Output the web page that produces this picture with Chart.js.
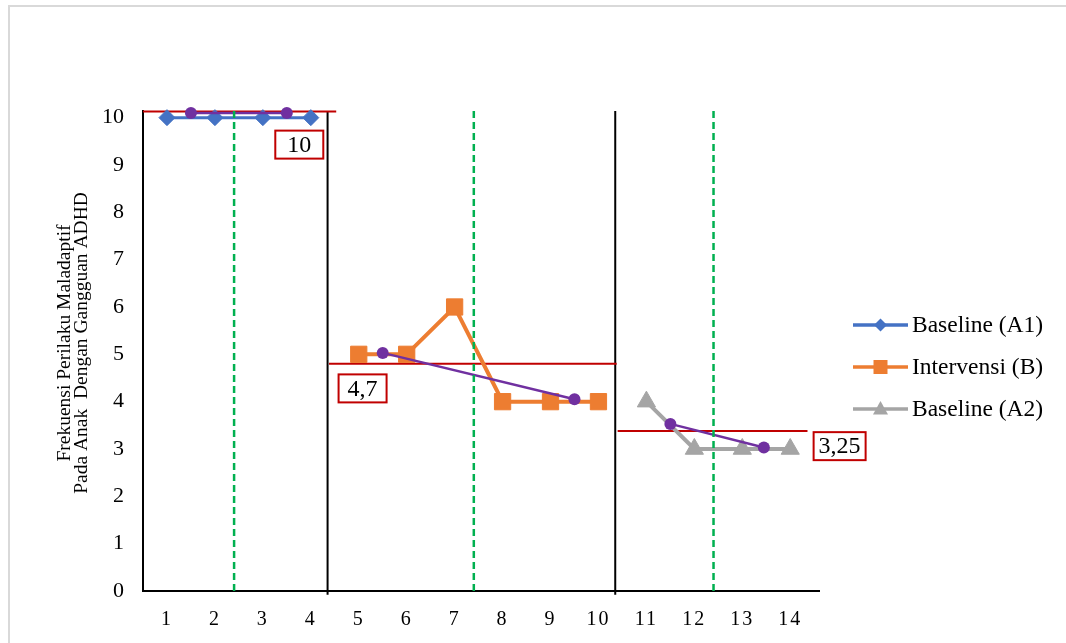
<!DOCTYPE html>
<html>
<head>
<meta charset="utf-8">
<title>Frekuensi Perilaku Maladaptif</title>
<script src="https://cdn.jsdelivr.net/npm/chart.js@4.4.1/dist/chart.umd.min.js"></script>
<style>
  html, body { margin: 0; padding: 0; background: #fff; }
  #wrap { position: relative; width: 1066px; height: 643px; }
</style>
</head>
<body>
<div id="wrap"><canvas id="chart" width="1066" height="643"></canvas></div>
<script>
// Sessions on the x axis and the y tick values
const sessions = [1, 2, 3, 4, 5, 6, 7, 8, 9, 10, 11, 12, 13, 14];
const yTicks = [0, 1, 2, 3, 4, 5, 6, 7, 8, 9, 10];

// Observed frequency per phase
const sessionsA1 = [1, 2, 3, 4];
const valuesA1 = [10, 10, 10, 10];
const sessionsB = [5, 6, 7, 8, 9, 10];
const valuesB = [5, 5, 6, 4, 4, 4];
const sessionsA2 = [11, 12, 13, 14];
const valuesA2 = [4, 3, 3, 3];
const seriesNames = ['Baseline (A1)', 'Intervensi (B)', 'Baseline (A2)'];

// Split-middle trend, two points per phase
const trendX = [[1.5, 3.5], [5.5, 9.5], [11.5, 13.45]];
const trendY = [[10.1, 10.1], [5.03, 4.05], [3.53, 3.03]];

// Mean level lines and their labels
const meanValues = [10.13, 4.8, 3.38];
const meanStart = [0.5, 4.38, 10.4];
const meanEnd = [4.53, 10.38, 14.36];
const meanLabels = ['10', '4,7', '3,25'];

// Phase boundaries (solid) and phase middles (dashed)
const phaseLines = [4.35, 10.35];
const midLines = [2.4, 7.4, 12.4];

const yTitle = ['Frekuensi Perilaku Maladaptif', 'Pada Anak  Dengan Gangguan ADHD'];

const FONT = '"Liberation Serif", "Times New Roman", serif';
const seriesColors = ['#4472C4', '#ED7D31', '#A5A5A5'];
const seriesPoints = ['rectRot', 'rect', 'triangle'];

const pts = (xs, ys) => xs.map((x, i) => ({ x: x, y: ys[i] }));

const datasets = [];

// main series
[[sessionsA1, valuesA1, 8], [sessionsB, valuesB, 11.5], [sessionsA2, valuesA2, 10.5]].forEach((s, i) => {
    datasets.push({
        label: seriesNames[i],
        data: pts(s[0], s[1]),
        borderColor: seriesColors[i],
        backgroundColor: seriesColors[i],
        borderWidth: i === 0 ? 3 : 4,
        pointStyle: seriesPoints[i],
        pointRadius: s[2],
        pointBorderWidth: 1,
        order: 2,
    });
});

// trend lines
trendX.forEach((xs, i) => {
    datasets.push({
        label: 'trend',
        data: pts(xs, trendY[i]),
        borderColor: '#7030A0',
        backgroundColor: '#7030A0',
        borderWidth: 2.5,
        pointStyle: 'circle',
        pointRadius: 6,
        pointBorderWidth: 0,
        order: 1,
    });
});

// mean level lines
meanValues.forEach((v, i) => {
    datasets.push({
        label: 'mean',
        data: pts([meanStart[i], meanEnd[i]], [v, v]),
        borderColor: '#C00000',
        borderWidth: 2,
        pointRadius: 0,
        order: 3,
    });
});

// phase boundaries
phaseLines.forEach(x => {
    datasets.push({
        label: 'phase',
        data: pts([x, x], [-0.08, 10.14]),
        borderColor: '#000000',
        borderWidth: 2,
        pointRadius: 0,
        order: 4,
    });
});

midLines.forEach(x => {
    datasets.push({
        label: 'middle',
        data: pts([x, x], [0, 10.22]),
        borderColor: '#00B050',
        borderWidth: 2.5,
        borderDash: [7, 4],
        pointRadius: 0,
        order: 0,
    });
});

// placement of the mean label boxes (data units)
const labelAnchorX = [3.76, 5.08, 15.03];
const labelAnchorY = [9.43, 4.28, 3.06];

const framePlugin = {
    id: 'frame',
    beforeDraw(chart) {
        const ctx = chart.ctx;
        ctx.save();
        ctx.fillStyle = '#fff';
        ctx.fillRect(0, 0, chart.width, chart.height);
        ctx.strokeStyle = '#D9D9D9';
        ctx.lineWidth = 2;
        ctx.beginPath();
        ctx.moveTo(9, chart.height);
        ctx.lineTo(9, 6);
        ctx.lineTo(chart.width, 6);
        ctx.stroke();
        ctx.restore();

        // x tick labels are spaced out a little in the original
        const xs = chart.scales.x;
        if (!xs._spaced) {
            const orig = xs.drawLabels;
            xs.drawLabels = function (area) {
                this.ctx.letterSpacing = '2px';
                orig.call(this, area);
                this.ctx.letterSpacing = '0px';
            };
            xs._spaced = true;
        }
    }
};

const extrasPlugin = {
    id: 'extras',
    afterDraw(chart) {
        const ctx = chart.ctx;
        const xs = chart.scales.x, ys = chart.scales.y;

        // mean labels in red boxes
        meanLabels.forEach((t, i) => {
            const cx = xs.getPixelForValue(labelAnchorX[i]);
            const cy = ys.getPixelForValue(labelAnchorY[i]);
            ctx.save();
            ctx.font = '24px ' + FONT;
            const w = Math.max(48, ctx.measureText(t).width + 10);
            const h = 28;
            ctx.fillStyle = '#fff';
            ctx.fillRect(cx - w / 2, cy - h / 2, w, h);
            ctx.strokeStyle = '#C00000';
            ctx.lineWidth = 2;
            ctx.strokeRect(cx - w / 2, cy - h / 2, w, h);
            ctx.fillStyle = '#000';
            ctx.textAlign = 'center';
            ctx.textBaseline = 'middle';
            ctx.fillText(t, cx, cy + 1);
            ctx.restore();
        });

        // y axis title, two rotated lines
        ctx.save();
        ctx.translate(65, 343);
        ctx.rotate(-Math.PI / 2);
        ctx.font = '19.5px ' + FONT;
        ctx.fillStyle = '#000';
        ctx.textAlign = 'center';
        ctx.textBaseline = 'middle';
        ctx.fillText(yTitle[0], 0, 0);
        ctx.fillText(yTitle[1], 0, 17);
        ctx.restore();

        // legend: line with marker, then name
        seriesNames.forEach((name, i) => {
            const y = 325 + i * 42;
            const x0 = 853, x1 = 908, mx = (x0 + x1) / 2;
            ctx.save();
            ctx.strokeStyle = seriesColors[i];
            ctx.fillStyle = seriesColors[i];
            ctx.lineWidth = 3.5;
            ctx.beginPath();
            ctx.moveTo(x0, y);
            ctx.lineTo(x1, y);
            ctx.stroke();
            ctx.beginPath();
            if (seriesPoints[i] === 'rectRot') {
                ctx.moveTo(mx, y - 6.5); ctx.lineTo(mx + 6.5, y); ctx.lineTo(mx, y + 6.5); ctx.lineTo(mx - 6.5, y);
            } else if (seriesPoints[i] === 'rect') {
                ctx.rect(mx - 7, y - 7, 14, 14);
            } else {
                ctx.moveTo(mx, y - 8); ctx.lineTo(mx + 7.5, y + 5.5); ctx.lineTo(mx - 7.5, y + 5.5);
            }
            ctx.closePath();
            ctx.fill();
            ctx.font = '23.5px ' + FONT;
            ctx.fillStyle = '#000';
            ctx.textAlign = 'left';
            ctx.textBaseline = 'middle';
            ctx.fillText(name, 912, y + 1);
            ctx.restore();
        });
    }
};

new Chart(document.getElementById('chart').getContext('2d'), {
    type: 'line',
    data: { datasets: datasets },
    options: {
        responsive: false,
        animation: false,
        events: [],
        clip: false,
        layout: { padding: { left: 0, top: 111, right: 247, bottom: 0 } },
        datasets: { line: { clip: false, tension: 0, fill: false } },
        plugins: {
            legend: { display: false },
            tooltip: { enabled: false },
        },
        scales: {
            x: {
                type: 'linear',
                min: 0.5,
                max: 14.6,
                afterBuildTicks: s => { s.ticks = sessions.map(v => ({ value: v })); },
                afterFit: s => { s.height = 52; },
                grid: { display: false, drawTicks: false },
                border: { display: true, color: '#000', width: 2 },
                ticks: {
                    autoSkip: false,
                    maxRotation: 0,
                    padding: 17,
                    color: '#000',
                    font: { family: FONT, size: 20 },
                },
            },
            y: {
                type: 'linear',
                min: 0,
                max: 10.14,
                afterBuildTicks: s => { s.ticks = yTicks.map(v => ({ value: v })); },
                afterFit: s => { s.width = 143; },
                grid: { display: false, drawTicks: false },
                border: { display: true, color: '#000', width: 2 },
                ticks: {
                    padding: 19,
                    color: '#000',
                    font: { family: FONT, size: 22 },
                },
            }
        }
    },
    plugins: [framePlugin, extrasPlugin]
});
</script>
</body>
</html>
